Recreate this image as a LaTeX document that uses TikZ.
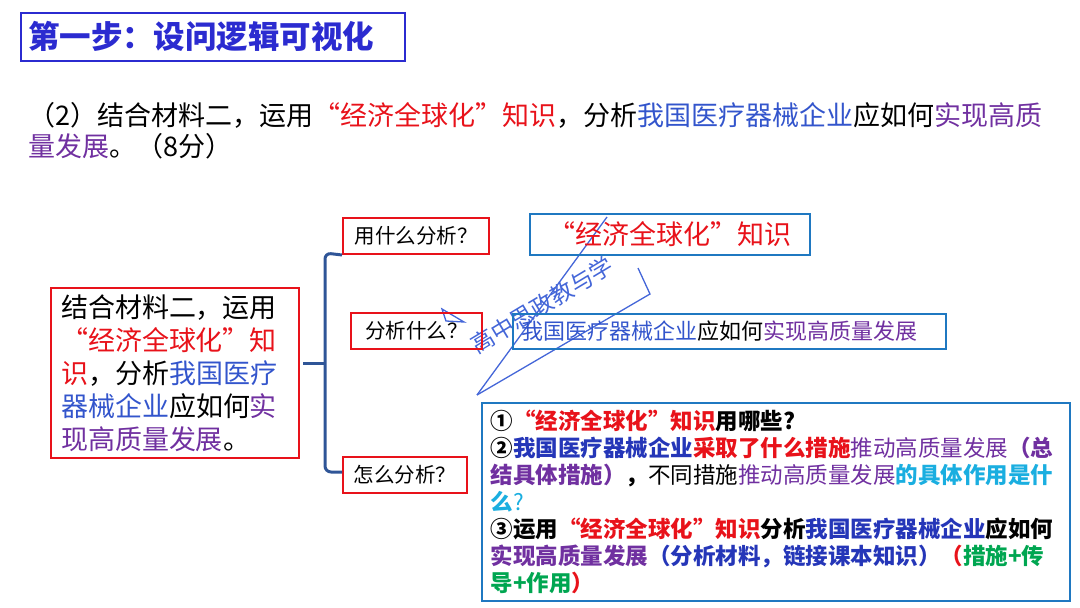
\documentclass[tikz,border=0pt]{standalone}
\usepackage{fontspec}
\setmainfont{Noto Sans CJK SC}
\usepackage{color}
\usepackage{tikz}

\definecolor{titleblue}{HTML}{2B2BD0}
\definecolor{hred}{HTML}{E8121A}
\definecolor{hblue}{HTML}{3355CC}
\definecolor{deepblue}{HTML}{2536B8}
\definecolor{hpurple}{HTML}{7030A0}
\definecolor{hcyan}{HTML}{1AAEE0}
\definecolor{hgreen}{HTML}{00A651}
\definecolor{boxblue}{HTML}{1F78C1}
\definecolor{bracecol}{HTML}{2F5597}
\definecolor{markblue}{HTML}{4466D8}

\begin{document}
\begin{tikzpicture}[x=1pt,y=-1pt]
                \tikzstyle{redbox}=[draw=hred,line width=2pt,inner sep=0pt,minimum height=36pt,font=\fontsize{20.5}{24}\selectfont]
                \tikzstyle{bluebox}=[draw=boxblue,line width=2pt,inner sep=0pt]
                \tikzstyle{brace}=[draw=bracecol,line width=3pt]
                \tikzstyle{logoline}=[draw=markblue,line width=1.3pt]
                \useasboundingbox (0,0) rectangle (1080,608);

                \node[draw=titleblue,line width=2.5pt,text width=370pt,minimum height=48pt,inner xsep=7pt,inner ysep=0pt,align=left,text=titleblue,font=\fontsize{31.5}{36}\selectfont\bfseries] (title) at (213,37) {第一步：设问逻辑可视化};

                \node[anchor=west,align=left,inner sep=0pt,font=\fontsize{27}{31}\selectfont] (ques) at (28,131)
                    {（2）结合材料二，运用\textcolor{hred}{“经济全球化”知识}，分析\textcolor{hblue}{我国医疗器械企业}应如何\textcolor{hpurple}{实现高质}\\
                     \textcolor{hpurple}{量发展}。（8分）};

                % watermark
                \draw[logoline] (477,395) -- (607,217);
                \draw[logoline] (477,395) -- (650,294) -- (638,268);
                \draw[logoline] (442,309) -- (464,322) -- (446,321) -- cycle;
                \node[rotate=31,text=markblue,font=\fontsize{23}{26}\selectfont] (wm) at (542,305) {高中思政教与学};

                \node[draw=hred,line width=2pt,text width=228pt,inner xsep=10pt,inner ysep=0pt,minimum height=170pt,align=left,font=\fontsize{27}{33}\selectfont] (mat) at (175,373)
                    {结合材料二，运用\\
                     \textcolor{hred}{“经济全球化”知}\\
                     \textcolor{hred}{识}，分析\textcolor{hblue}{我国医疗}\\
                     \textcolor{hblue}{器械企业}应如何\textcolor{hpurple}{实}\\
                     \textcolor{hpurple}{现高质量发展}。};

                \node[redbox,minimum width=146pt] (q1) at (416,236) {用什么分析？};
                \node[redbox,minimum width=131pt] (q2) at (416.5,331) {分析什么？};
                \node[redbox,minimum width=124pt] (q3) at (405,475) {怎么分析？};

                \node[bluebox,minimum width=280pt,minimum height=41pt,text=hred,font=\fontsize{27}{32}\selectfont] (ans1) at (670,234.5) {“经济全球化”知识};
                \node[bluebox,anchor=west,text width=417pt,inner xsep=8pt,minimum height=35pt,align=left,font=\fontsize{22}{26}\selectfont] (ans2) at (512,331.5)
                    {\textcolor{hblue}{我国医疗器械企业}应如何\textcolor{hpurple}{实现高质量发展}};

                \node[bluebox,text width=570pt,inner xsep=9pt,minimum height=198pt,align=left,font=\fontsize{22.5}{27}\selectfont] (ans3) at (775.5,502)
                    {{\bfseries ①\textcolor{hred}{“经济全球化”知识}用哪些?}\\
                     {\bfseries ②\textcolor{deepblue}{我国医疗器械企业}\textcolor{hred}{采取了什么措施}}\textcolor{hpurple}{推动高质量发展}\textcolor{hpurple}{\bfseries （总}\\
                     \textcolor{hpurple}{\bfseries 结具体措施）}{\bfseries ，}不同措施\textcolor{hpurple}{推动高质量发展}\textcolor{hcyan}{\bfseries 的具体作用是什}\\
                     \textcolor{hcyan}{{\bfseries 么}?}\\
                     {\bfseries ③运用\textcolor{hred}{“经济全球化”知识}分析\textcolor{deepblue}{我国医疗器械企业}应如何}\\
                     {\bfseries \textcolor{hpurple}{实现高质量发展}\textcolor{deepblue}{（分析材料，链接课本知识）}\textcolor{hred}{（}\textcolor{hgreen}{措施+传}}\\
                     {\bfseries \textcolor{hgreen}{导+作用}\textcolor{hred}{）}}};

                % brace
                \coordinate (btop) at (325,253);
                \coordinate (bmid) at (325,363);
                \coordinate (bbot) at (325,472);
                \draw[brace] ([xshift=3pt,yshift=10pt]mat.east) -- (bmid);
                \draw[brace,rounded corners=6pt] (q1.south west) -- (btop) -- (bbot) -- (q3.west |- bbot);
            \end{tikzpicture}
\end{document}
